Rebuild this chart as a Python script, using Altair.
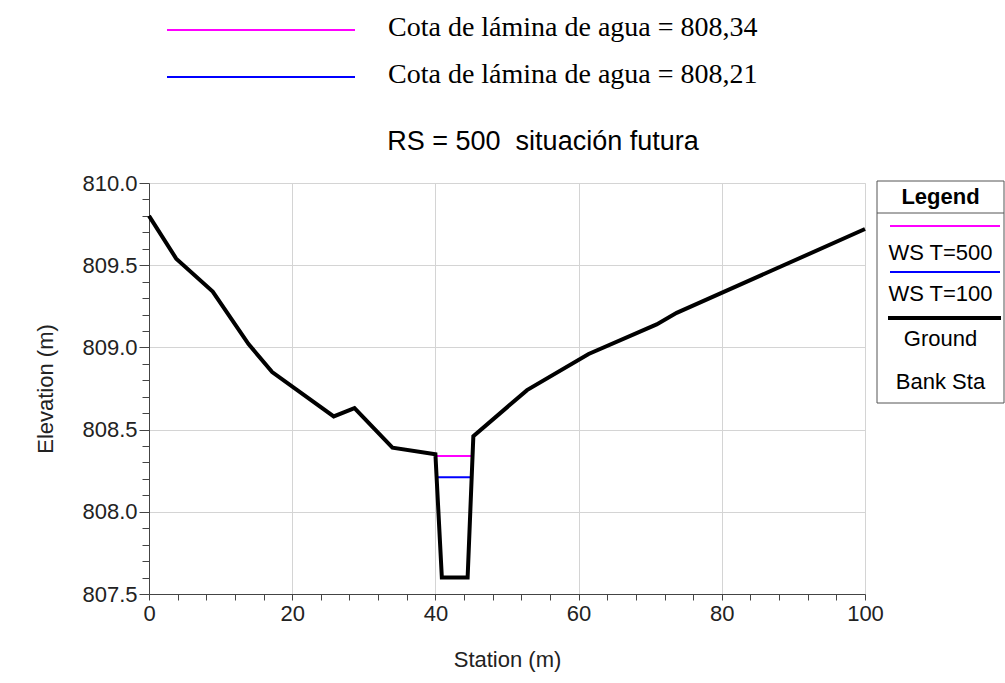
import altair as alt
import pandas as pd

# Ground profile (Station m, Elevation m)
station = [0.0, 3.8, 8.9, 13.9, 17.2, 25.8, 28.7, 34.0, 40.0, 40.9, 44.5, 45.3, 52.8, 61.4, 70.9, 73.7, 100.0]
elevation = [809.80, 809.54, 809.34, 809.02, 808.85, 808.58, 808.63, 808.39, 808.35, 807.60, 807.60, 808.46, 808.74, 808.96, 809.14, 809.21, 809.72]

# Water surfaces
ws_names = ["WS T=500", "WS T=100"]
ws_elev = [808.34, 808.21]
ws_left = [40.0, 40.2]
ws_right = [45.2, 45.07]
ws_colors = ["#ff00ff", "#0000ff"]

top_labels = ["Cota de lámina de agua = 808,34", "Cota de lámina de agua = 808,21"]
legend_labels = ["WS T=500", "WS T=100", "Ground", "Bank Sta"]
title_text = "RS = 500\u00a0\u00a0situación futura"

x_ticks = list(range(0, 101, 4))
y_ticks = [round(807.5 + 0.1 * i, 1) for i in range(26)]

W, H = 716, 411
SANS = "Liberation Sans"
SERIF = "Liberation Serif"

ground_df = pd.DataFrame({"station": station, "elev": elevation, "i": range(len(station))})
ws_df = pd.DataFrame({"name": ws_names, "elev": ws_elev, "x1": ws_left, "x2": ws_right})

xscale = alt.Scale(domain=[0, 100], nice=False, zero=False)
yscale = alt.Scale(domain=[807.5, 810.0], nice=False, zero=False)

maj_x = "datum.value % 20 == 0"
xaxis = alt.Axis(
    values=x_ticks, tickCount=200,
    labelExpr=maj_x + " ? datum.label : ''",
    gridOpacity={"condition": {"test": maj_x, "value": 1}, "value": 0},
    grid=True, gridColor="#d4d4d4", gridWidth=1,
    format="d", labelOverlap=False, labelFlush=False, labelFontSize=22, labelFont=SANS, labelColor="#222",
    tickSize=6, tickColor="#444", domainColor="#444", labelPadding=3,
    title="Station (m)", titleFontSize=22, titleFont=SANS, titleFontWeight="normal",
    titleColor="#222", titlePadding=25,
)
maj_y = "abs(datum.value*2 - round(datum.value*2)) < 0.01"
yaxis = alt.Axis(
    values=y_ticks, tickCount=200,
    labelExpr=maj_y + " ? format(datum.value, '.1f') : ''",
    gridOpacity={"condition": {"test": maj_y, "value": 1}, "value": 0},
    tickSize={"condition": {"test": maj_y, "value": 10}, "value": 7},
    grid=True, gridColor="#d4d4d4", gridWidth=1,
    labelOverlap=False, labelFlush=False, labelFontSize=22, labelFont=SANS, labelColor="#222",
    tickColor="#444", domainColor="#444", labelPadding=2,
    title="Elevation (m)", titleFontSize=22, titleFont=SANS, titleFontWeight="normal",
    titleColor="#222", titlePadding=24,
)

ws = alt.Chart(ws_df).mark_rule(strokeWidth=2).encode(
    x=alt.X("x1:Q", scale=xscale, axis=xaxis),
    x2="x2:Q",
    y=alt.Y("elev:Q", scale=yscale, axis=yaxis),
    color=alt.Color("name:N", scale=alt.Scale(domain=ws_names, range=ws_colors), legend=None),
)

ground = alt.Chart(ground_df).mark_line(color="black", strokeWidth=4, strokeJoin="miter").encode(
    x=alt.X("station:Q", scale=xscale),
    y=alt.Y("elev:Q", scale=yscale),
    order="i:Q",
)

layers = [ws, ground]

def txt(s, x, y, size, font=SANS, weight="normal", align="center"):
    return alt.Chart(pd.DataFrame({"t": [s]})).mark_text(
        font=font, fontSize=size, fontWeight=weight, align=align, baseline="middle", color="black"
    ).encode(x=alt.value(x), y=alt.value(y), text="t:N")

def hline(x1, x2, y, color, width):
    return alt.Chart(pd.DataFrame({"a": [0]})).mark_rule(color=color, strokeWidth=width).encode(
        x=alt.value(x1), x2=alt.value(x2), y=alt.value(y)
    )

# title
layers.append(txt(title_text, 394, -41, 27))

# top legend
layers.append(hline(18, 206, -153, ws_colors[0], 2))
layers.append(hline(18, 206, -106, ws_colors[1], 2))
layers.append(txt(top_labels[0], 239, -155, 28, font=SERIF, align="left"))
layers.append(txt(top_labels[1], 239, -108, 28, font=SERIF, align="left"))

# right legend box
box = alt.Chart(pd.DataFrame({"a": [0]})).mark_rect(fill="white", stroke="#555", strokeWidth=1).encode(
    x=alt.value(728), x2=alt.value(855), y=alt.value(-2), y2=alt.value(220)
)
layers.append(box)
layers.append(hline(728, 855, 30, "#555", 1))
cx = 791.5
layers.append(txt("Legend", cx, 14, 22, weight="bold"))
layers.append(hline(741, 851, 43, ws_colors[0], 2))
layers.append(txt(legend_labels[0], cx, 70, 22))
layers.append(hline(741, 851, 89, ws_colors[1], 2))
layers.append(txt(legend_labels[1], cx, 111, 22))
layers.append(hline(739, 852, 135, "black", 4))
layers.append(txt(legend_labels[2], cx, 156, 22))
layers.append(txt(legend_labels[3], cx, 199, 22))

chart = alt.layer(*layers).properties(
    width=W, height=H,
    autosize=alt.AutoSizeParams(type="none"),
    padding={"left": 149, "top": 183, "right": 140, "bottom": 89},
).configure_view(stroke=None).configure(background="white")

chart.save("out.html", embed_options={"renderer": "svg", "actions": False})
